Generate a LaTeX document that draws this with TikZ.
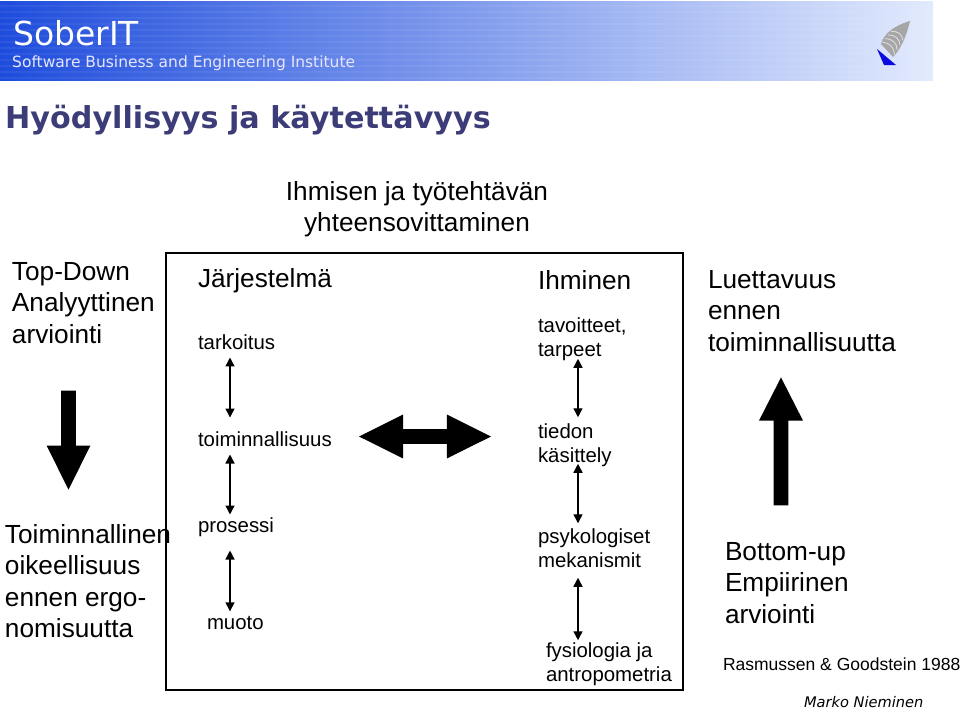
\documentclass[tikz,border=0pt]{standalone}
\usepackage{fontspec}
\setmainfont{Liberation Sans}
\newfontfamily\bannerfont{DejaVu Sans}
\usepackage{xcolor}
\usetikzlibrary{shapes.arrows,arrows.meta}

\definecolor{titleblue}{HTML}{3C3C78}
\definecolor{bannerleft}{HTML}{1E4CDC}
\definecolor{bannermid}{HTML}{6C92F2}
\definecolor{bannerright}{HTML}{E2EAFD}
\definecolor{logoblue}{HTML}{0A0AE0}

\begin{document}
\begin{tikzpicture}[
    x=1pt, y=-1pt,
    label/.style={anchor=west, inner sep=0pt, outer sep=0pt, align=left},
    big/.style={label, font=\fontsize{26.2}{31.5}\selectfont},
    small/.style={label, font=\fontsize{20.4}{24.5}\selectfont},
    link/.style={{Triangle[width=9pt,length=9pt]}-{Triangle[width=9pt,length=9pt]}, line width=1.4pt},
    block/.style={fill=black, inner sep=0pt, minimum width=43.5pt, text height=14.5pt, text depth=0pt}
]
    \useasboundingbox (0,0) rectangle (960,710);

    % banner
    \node[minimum width=933pt, minimum height=79pt, inner sep=0pt, left color=bannerleft, middle color=bannermid, right color=bannerright] (banner) at (466.5,40.5) {};
    \foreach \y in {6,12,...,78} {
        \draw[white, opacity=0.06, line width=2pt] (0,\y) -- (933,\y);
    }
    \node[anchor=west, inner sep=0pt, text=white, font=\bannerfont\fontsize{33}{33}\selectfont] (soberit) at (13,33) {SoberIT};
    \node[anchor=west, inner sep=0pt, text=white!90!blue, font=\bannerfont\fontsize{15.5}{15.5}\selectfont] (institute) at (12,63) {Software Business and Engineering Institute};

    % logo
    \fill[black!35] (910,21) .. controls (893,26) and (884,34) .. (881,44) -- (893,57) .. controls (900,50) and (906,38) .. (910,21) -- cycle;
    \foreach \t in {0.1,0.3,0.5,0.7} {
        \draw[white!85!black, line width=1pt] (881+14*\t,44-18*\t) .. controls (889+14*\t,45-20*\t) and (893+13*\t,50-22*\t) .. (893+14*\t,57-24*\t);
    }
    \fill[logoblue] (877,49) -- (896,65) -- (884,65) -- cycle;

    \node[anchor=west, inner sep=0pt, text=titleblue, font=\bannerfont\bfseries\fontsize{30.2}{30.2}\selectfont] (title) at (5,120) {Hyödyllisyys ja käytettävyys};

    % frame
    \node[draw, line width=2pt, minimum width=517pt, minimum height=437pt, inner sep=0pt] (frame) at (424.5,471.5) {};

    \node[big, align=center, anchor=center] (fit) at (417,209) {Ihmisen ja työtehtävän\\yhteensovittaminen};
    \node[big] (topdown) at (12,303) {Top-Down\\Analyyttinen\\arviointi};
    \node[big] (correct) at (5,581) {Toiminnallinen\\oikeellisuus\\ennen ergo-\\nomisuutta};
    \node[big] (usable) at (708,311) {Luettavuus\\ennen\\toiminnallisuutta};
    \node[big] (bottomup) at (725,583) {Bottom-up\\Empiirinen\\arviointi};

    % left column
    \node[big] (system) at (198,281) {Järjestelmä};
    \node[small] (purpose) at (198,342) {tarkoitus};
    \node[small] (function) at (198,439) {toiminnallisuus};
    \node[small] (process) at (198,527) {prosessi};
    \node[small] (form) at (207,623) {muoto};

    % right column
    \node[big] (human) at (538,280) {Ihminen};
    \node[small] (goals) at (538,339) {tavoitteet,\\tarpeet};
    \node[small] (info) at (538,445) {tiedon\\käsittely};
    \node[small] (mech) at (538,548) {psykologiset\\mekanismit};
    \node[small] (anthro) at (546,664) {fysiologia ja\\antropometria};

    \node[label, font=\fontsize{17.5}{17.5}\selectfont] (source) at (723,664) {Rasmussen \& Goodstein 1988};
    \node[label, font=\bannerfont\itshape\fontsize{14.6}{14.6}\selectfont] (author) at (804,702) {Marko Nieminen};

    % column axes
    \coordinate (axisl) at (230,0);
    \coordinate (axisr) at (578,0);

    \draw[link, shorten <=8pt, shorten >=14pt] (purpose.south -| axisl) -- (function.north -| axisl);
    \draw[link, shorten <=8pt, shorten >=3pt] (function.south -| axisl) -- (process.north -| axisl);
    \draw[link, shorten <=14pt, shorten >=5pt] (process.south -| axisl) -- (form.north -| axisl);
    \draw[link, shorten <=-2pt, shorten >=6pt] (goals.south -| axisr) -- (info.north -| axisr);
    \draw[link, shorten <=-3pt, shorten >=5pt] (info.south -| axisr) -- (mech.north -| axisr);
    \draw[link, shorten <=10pt, shorten >=2pt] (mech.south -| axisr) -- (anthro.north -| axisr);

    % block arrows
    \node[block, single arrow, rotate=-90, anchor=tip, minimum height=99pt, single arrow head extend=14.5pt, single arrow tip angle=53] (down) at (68.5,490) {};
    \node[block, single arrow, rotate=90, anchor=tip, minimum height=128pt, single arrow head extend=14.5pt, single arrow tip angle=54] (up) at (781,377) {};
    \node[block, double arrow, minimum height=132pt, double arrow head extend=14.5pt, double arrow tip angle=53] (both) at (425,436.5) {};
\end{tikzpicture}
\end{document}
